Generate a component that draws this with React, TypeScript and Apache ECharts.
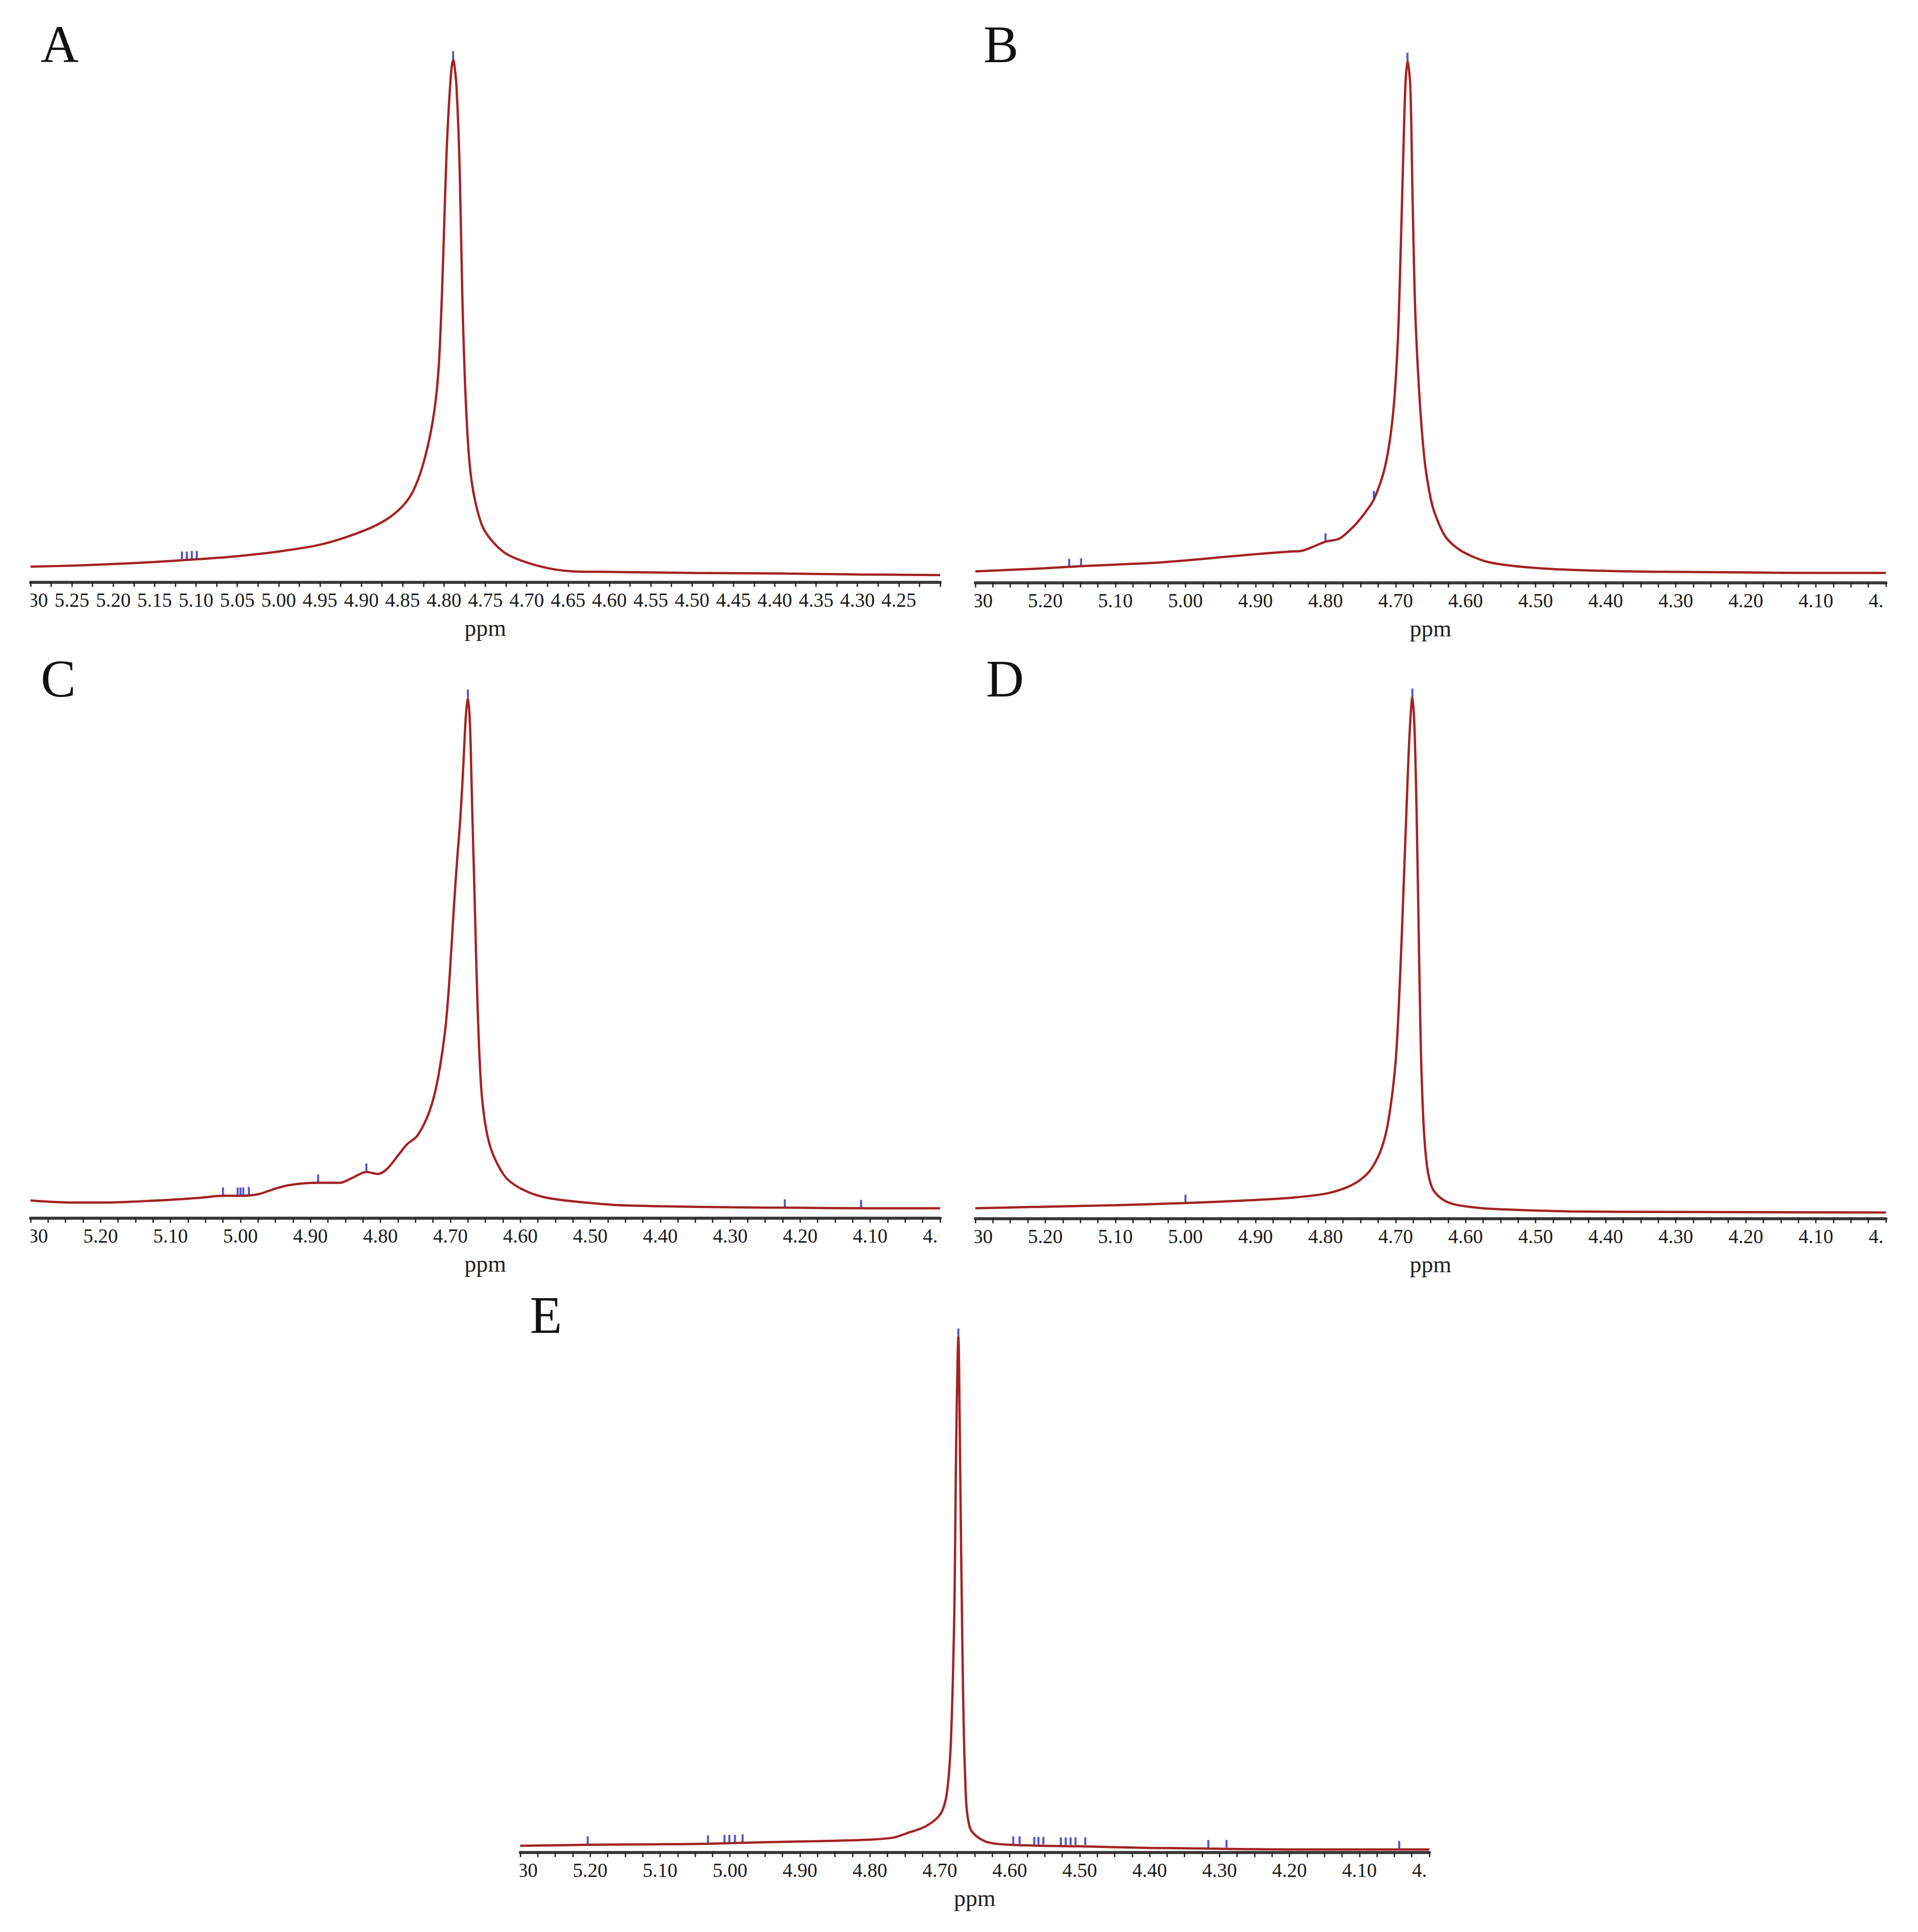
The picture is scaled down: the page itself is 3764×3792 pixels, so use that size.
import React, { useEffect, useRef } from "react";
import * as echarts from "echarts";

// ---- Spectrum A (relative intensity, % of main peak) ----
const ppmA = [5.30, 5.25, 5.20, 5.15, 5.10, 5.05, 5.00, 4.95, 4.905, 4.873, 4.850, 4.836, 4.823, 4.812, 4.806, 4.801, 4.797, 4.792, 4.789, 4.785, 4.781, 4.778, 4.774, 4.769, 4.762, 4.751, 4.726, 4.685, 4.644, 4.60, 4.50, 4.40, 4.30, 4.20];
const intA = [3.0, 3.2, 3.5, 3.9, 4.4, 5.0, 5.9, 7.2, 9.4, 11.7, 14.6, 17.9, 23.9, 32.5, 42.3, 62.1, 81.9, 96.4, 100, 95.0, 78.6, 55.6, 35.8, 22.6, 15.3, 9.9, 5.6, 3.1, 2.1, 2.0, 1.8, 1.7, 1.5, 1.4];
const markPpmA = [5.117, 5.111, 5.105, 5.099, 4.789];
const markIntA = [4.3, 4.3, 4.4, 4.4, 100];

// ---- Spectrum B ----
const ppmB = [5.30, 5.20, 5.15, 5.10, 5.05, 5.00, 4.95, 4.90, 4.85, 4.835, 4.82, 4.80, 4.78, 4.76, 4.745, 4.731, 4.715, 4.704, 4.697, 4.693, 4.689, 4.686, 4.683, 4.679, 4.676, 4.672, 4.666, 4.659, 4.652, 4.645, 4.629, 4.606, 4.565, 4.495, 4.40, 4.30, 4.20, 4.10, 4.00];
const intB = [2.2, 2.8, 3.2, 3.5, 3.8, 4.3, 4.9, 5.5, 6.0, 6.1, 6.8, 7.9, 8.5, 10.8, 13.2, 16.0, 22.3, 31.9, 45.8, 62.3, 82.1, 95.3, 100, 95.3, 75.6, 52.4, 35.9, 24.0, 17.6, 13.7, 8.9, 6.1, 3.9, 2.8, 2.3, 2.1, 2.0, 1.9, 1.9];
const markPpmB = [5.166, 5.149, 4.80, 4.731, 4.683];
const markIntB = [3.0, 3.1, 7.9, 16.0, 100];

// ---- Spectrum C ----
const ppmC = [5.30, 5.24, 5.20, 5.12, 5.06, 5.025, 5.00, 4.975, 4.95, 4.929, 4.891, 4.858, 4.841, 4.820, 4.804, 4.791, 4.774, 4.762, 4.747, 4.730, 4.718, 4.707, 4.701, 4.695, 4.690, 4.686, 4.682, 4.678, 4.675, 4.672, 4.669, 4.665, 4.661, 4.655, 4.644, 4.623, 4.598, 4.561, 4.47, 4.40, 4.30, 4.20, 4.10, 4.00];
const intC = [3.4, 3.0, 3.0, 3.4, 3.9, 4.3, 4.3, 4.6, 5.7, 6.4, 6.8, 6.8, 7.7, 8.9, 8.5, 9.4, 12.2, 14.2, 15.9, 20.5, 26.7, 36.7, 46.6, 59.8, 69.5, 76.4, 85.7, 96.3, 100, 95.0, 79.7, 59.8, 40.1, 23.5, 14.2, 8.2, 5.6, 3.9, 2.6, 2.3, 2.1, 2.0, 1.9, 1.9];
const markPpmC = [5.025, 5.004, 5.000, 4.996, 4.988, 4.889, 4.820, 4.675, 4.222, 4.113];
const markIntC = [4.3, 4.3, 4.3, 4.3, 4.4, 6.8, 8.9, 100, 2.0, 1.9];

// ---- Spectrum D ----
const ppmD = [5.30, 5.20, 5.10, 5.00, 4.90, 4.85, 4.80, 4.77, 4.75, 4.735, 4.72, 4.71, 4.70, 4.694, 4.689, 4.684, 4.680, 4.676, 4.673, 4.670, 4.667, 4.664, 4.660, 4.655, 4.648, 4.636, 4.62, 4.59, 4.55, 4.45, 4.30, 4.00];
const intD = [2.0, 2.3, 2.6, 3.0, 3.6, 4.0, 4.8, 6.0, 7.5, 9.5, 13.5, 19.0, 30.0, 45.0, 62.0, 80.0, 93.0, 100, 94.0, 78.0, 55.0, 33.0, 18.0, 10.0, 6.0, 4.0, 2.9, 2.2, 1.8, 1.4, 1.3, 1.2];
const markPpmD = [5.00, 4.676];
const markIntD = [3.0, 100];

// ---- Spectrum E ----
const ppmE = [5.30, 5.20, 5.10, 5.03, 4.95, 4.878, 4.80, 4.766, 4.748, 4.720, 4.699, 4.690, 4.684, 4.679, 4.677, 4.6735, 4.671, 4.668, 4.664, 4.657, 4.636, 4.60, 4.50, 4.40, 4.20, 4.00];
const intE = [1.3, 1.5, 1.6, 1.7, 2.0, 2.2, 2.5, 2.9, 3.7, 5.1, 7.5, 11.5, 22.2, 48.9, 75.7, 100, 75.7, 42.2, 15.5, 4.8, 2.2, 1.5, 1.2, 0.9, 0.6, 0.6];
const markPpmE = [5.2035, 5.0316, 5.008, 5.001, 4.993, 4.982, 4.6735, 4.595, 4.586, 4.565, 4.559, 4.552, 4.527, 4.520, 4.513, 4.506, 4.492, 4.316, 4.290, 4.043];
const markIntE = [1.5, 1.7, 1.8, 1.8, 1.8, 1.9, 100, 1.5, 1.5, 1.4, 1.4, 1.4, 1.3, 1.3, 1.3, 1.3, 1.3, 0.8, 0.8, 0.6];

// ---- Axis ranges / tick spacing ----
const axisMaxPpm = 5.3;
const axisMinA = 4.2;
const axisMinOthers = 4.0;
const majorStepA = 0.05;
const majorStepOthers = 0.1;
const panelLetters = ["A", "B", "C", "D", "E"];
const axisName = "ppm";

const FONT = '"Liberation Serif", "DejaVu Serif", serif';
const CURVE = "#a32222";
const MARK = "#2a2ab4";

const panels = [
  { ppm: ppmA, int: intA, mp: markPpmA, mi: markIntA, left: 60, top: 117, width: 1785, height: 1026, min: axisMinA, step: majorStepA, split: 2, showMin: false, lx: 80, ly: 87 },
  { ppm: ppmB, int: intB, mp: markPpmB, mi: markIntB, left: 1914, top: 120, width: 1787, height: 1024, min: axisMinOthers, step: majorStepOthers, split: 4, showMin: true, lx: 1930, ly: 87 },
  { ppm: ppmC, int: intC, mp: markPpmC, mi: markIntC, left: 60, top: 1370, width: 1785, height: 1021, min: axisMinOthers, step: majorStepOthers, split: 4, showMin: true, lx: 80, ly: 1332 },
  { ppm: ppmD, int: intD, mp: markPpmD, mi: markIntD, left: 1914, top: 1368, width: 1787, height: 1024, min: axisMinOthers, step: majorStepOthers, split: 4, showMin: true, lx: 1935, ly: 1332 },
  { ppm: ppmE, int: intE, mp: markPpmE, mi: markIntE, left: 1021, top: 2624, width: 1784, height: 1012, min: axisMinOthers, step: majorStepOthers, split: 4, showMin: true, lx: 1040, ly: 2581 },
];

export default function App() {
  const ref = useRef<HTMLDivElement>(null);
  useEffect(() => {
    document.body.style.margin = "0";
    const chart = echarts.init(ref.current!, null, { renderer: "svg" });

    const grid = panels.map((p) => ({ left: p.left, top: p.top, width: p.width, height: p.height, containLabel: false }));
    const xAxis = panels.map((p, i) => ({
      gridIndex: i,
      type: "value",
      inverse: true,
      min: p.min,
      max: axisMaxPpm,
      interval: p.step,
      axisLine: { show: true, onZero: false, lineStyle: { color: "#3a3a3a", width: 6 } },
      axisTick: { show: true, inside: false, length: 9, lineStyle: { color: "#1e1e1e", width: 2.5 } },
      minorTick: { show: true, splitNumber: p.split, length: 9, lineStyle: { color: "#1e1e1e", width: 2.5 } },
      splitLine: { show: false },
      minorSplitLine: { show: false },
      axisLabel: {
        interval: 0,
        margin: 15,
        showMinLabel: p.showMin,
        showMaxLabel: true,
        fontFamily: FONT,
        fontSize: 39,
        color: "#1a1a1a",
        formatter: (v: number) => v.toFixed(2),
      },
      name: axisName,
      nameLocation: "middle",
      nameGap: 66,
      nameTextStyle: { fontFamily: FONT, fontSize: 46, color: "#222" },
    }));
    const yAxis = panels.map((p, i) => ({ gridIndex: i, type: "value", min: 0, max: 100, show: false }));

    const series: any[] = [];
    panels.forEach((p, i) => {
      series.push({
        type: "line",
        xAxisIndex: i,
        yAxisIndex: i,
        data: p.ppm.map((x, j) => [x, p.int[j]]),
        symbol: "none",
        smooth: 0.3,
        clip: false,
        lineStyle: { color: CURVE, width: 4.5 },
        z: 2,
      });
      series.push({
        type: "scatter",
        xAxisIndex: i,
        yAxisIndex: i,
        data: p.mp.map((x, j) => [x, p.mi[j]]),
        symbol: "rect",
        symbolSize: [4, 15],
        symbolOffset: [0, -9],
        itemStyle: { color: MARK },
        clip: false,
        z: 3,
      });
    });

    const masks = [
      [0, 1152, 60, 70], [1842, 1152, 71, 70], [3697, 1152, 67, 70],
      [0, 2400, 60, 70], [1842, 2400, 71, 70], [3697, 2400, 67, 70],
      [0, 3645, 1020, 70], [2801, 3645, 963, 70],
    ];

    const graphic: any[] = masks.map((m) => ({
      type: "rect",
      z: 100,
      shape: { x: m[0], y: m[1], width: m[2], height: m[3] },
      style: { fill: "#ffffff" },
    }));
    panels.forEach((p, i) => {
      graphic.push({
        type: "text",
        z: 100,
        x: p.lx,
        y: p.ly,
        style: { text: panelLetters[i], fontFamily: FONT, fontSize: 103, fill: "#111", align: "left", verticalAlign: "middle" },
      });
    });

    chart.setOption({
      animation: false,
      backgroundColor: "#ffffff",
      grid,
      xAxis,
      yAxis,
      series,
      graphic,
    });
    return () => chart.dispose();
  }, []);
  return <div ref={ref} style={{ width: 3764, height: 3792 }} />;
}
